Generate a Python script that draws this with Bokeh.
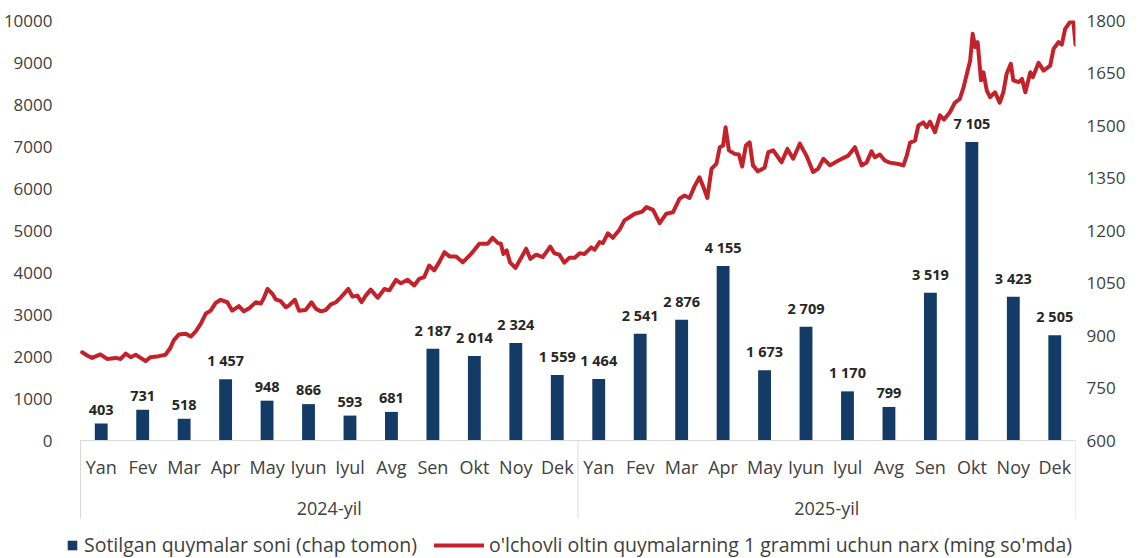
from bokeh.plotting import figure
from bokeh.models import Range1d, LinearAxis, FixedTicker, ColumnDataSource, Legend, LegendItem
from bokeh.embed import file_html
from bokeh.resources import INLINE
from bokeh.core.properties import value

# ---------------- data ----------------
months = ["Yan", "Fev", "Mar", "Apr", "May", "Iyun", "Iyul", "Avg", "Sen", "Okt", "Noy", "Dek"]
years = ["2024-yil", "2025-yil"]
sold_2024 = [403, 731, 518, 1457, 948, 866, 593, 681, 2187, 2014, 2324, 1559]
sold_2025 = [1464, 2541, 2876, 4155, 1673, 2709, 1170, 799, 3519, 7105, 3423, 2505]

# gold bar price (thousand so'm per gram); position = months elapsed since 1 Jan 2024
price_month = [
    0.04, 0.16, 0.28, 0.48, 0.64, 0.85, 0.97, 1.09, 1.21, 1.33, 1.45, 1.57, 1.69, 1.89,
    2.05, 2.17, 2.25, 2.37, 2.54, 2.66, 2.78, 2.90, 3.02, 3.14, 3.26, 3.38, 3.54, 3.66,
    3.82, 3.94, 4.07, 4.23, 4.35, 4.43, 4.51, 4.63, 4.71, 4.83, 4.95, 5.03, 5.17, 5.27,
    5.43, 5.57, 5.68, 5.80, 5.92, 6.04, 6.16, 6.28, 6.46, 6.56, 6.68, 6.78, 6.88, 7.00,
    7.17, 7.33, 7.45, 7.61, 7.73, 7.89, 8.05, 8.17, 8.29, 8.41, 8.53, 8.65, 8.78, 8.90,
    9.06, 9.22, 9.42, 9.62, 9.82, 9.94, 10.07, 10.14, 10.20, 10.28, 10.36, 10.49, 10.63,
    10.75, 10.85, 10.99, 11.15, 11.33, 11.43, 11.55, 11.67, 11.79, 11.92, 12.04, 12.16,
    12.32, 12.40, 12.52, 12.60, 12.72, 12.84, 13.00, 13.12, 13.24, 13.37, 13.55, 13.65,
    13.81, 13.97, 14.13, 14.29, 14.45, 14.57, 14.69, 14.81, 14.93, 15.02, 15.12, 15.22,
    15.34, 15.42, 15.50, 15.56, 15.64, 15.78, 15.88, 15.96, 16.05, 16.14, 16.22, 16.34,
    16.50, 16.59, 16.71, 16.91, 17.05, 17.19, 17.35, 17.51, 17.67, 17.79, 17.92, 18.08,
    18.28, 18.52, 18.68, 18.84, 18.96, 19.08, 19.16, 19.28, 19.40, 19.52, 19.73, 19.85,
    19.93, 20.01, 20.13, 20.21, 20.33, 20.41, 20.49, 20.61, 20.73, 20.83, 20.97, 21.09,
    21.21, 21.30, 21.38, 21.46, 21.52, 21.58, 21.64, 21.72, 21.78, 21.86, 21.94, 22.06,
    22.17, 22.26, 22.34, 22.44, 22.50, 22.63, 22.71, 22.79, 22.91, 22.97, 23.11, 23.23,
    23.39, 23.47, 23.59, 23.67, 23.75, 23.87, 23.95, 24.00,
]
price_value = [
    852, 843, 836, 846, 833, 836, 833, 848, 838, 845, 836, 827, 838, 841,
    845, 865, 886, 903, 905, 897, 912, 933, 962, 971, 993, 1002, 995, 971,
    984, 969, 978, 995, 991, 1009, 1033, 1019, 1003, 998, 981, 986, 1002, 971,
    973, 995, 976, 969, 973, 989, 995, 1009, 1033, 1011, 1014, 995, 1014, 1031,
    1008, 1033, 1029, 1059, 1049, 1059, 1043, 1062, 1067, 1100, 1086, 1109, 1138, 1126,
    1126, 1109, 1133, 1162, 1162, 1179, 1164, 1162, 1133, 1143, 1109, 1093, 1122,
    1148, 1119, 1131, 1124, 1154, 1135, 1131, 1108, 1122, 1122, 1135, 1133,
    1152, 1145, 1167, 1164, 1192, 1179, 1202, 1229, 1238, 1248, 1254, 1267,
    1259, 1221, 1248, 1252, 1291, 1300, 1293, 1326, 1352, 1326, 1293, 1376,
    1391, 1438, 1443, 1495, 1429, 1419, 1417, 1383, 1443, 1452, 1386, 1369,
    1379, 1424, 1429, 1395, 1433, 1405, 1448, 1414, 1367, 1376, 1405, 1386,
    1400, 1414, 1438, 1386, 1394, 1426, 1409, 1417, 1400, 1394, 1390, 1386,
    1414, 1451, 1457, 1500, 1509, 1495, 1511, 1481, 1529, 1517, 1538, 1565,
    1576, 1609, 1648, 1686, 1762, 1724, 1738, 1629, 1652, 1600, 1581, 1595,
    1565, 1595, 1648, 1676, 1629, 1624, 1633, 1595, 1652, 1638, 1679, 1657,
    1671, 1719, 1738, 1731, 1776, 1796, 1796, 1731,
]

left_ticks = [0, 1000, 2000, 3000, 4000, 5000, 6000, 7000, 8000, 9000, 10000]
right_ticks = [600, 750, 900, 1050, 1200, 1350, 1500, 1650, 1800]

bar_legend = "Sotilgan quymalar soni (chap tomon)"
line_legend = "o'lchovli oltin quymalarning 1 grammi uchun narx (ming so'mda)"

# ---------------- styling / layout ----------------
FONT = "Open Sans"
TXT = "#404040"
BAR_C = "#133B65"
LINE_C = "#C4222B"
AX_C = "#D9D9D9"

W, H = 1140, 558
FRAME_LEFT, CHART_LEFT, CHART_RIGHT = 55, 80, 1075     # page pixels
FRAME_TOP, FRAME_BOT, BASE = 20, 558, 440              # page pixels
LEFT_MAX, RIGHT_MIN, RIGHT_MAX = 10000, 600, 1800

n = len(months) * len(years)
px_per_slot = (CHART_RIGHT - CHART_LEFT) / n
x_start = -(CHART_LEFT - FRAME_LEFT) / px_per_slot
span_px = BASE - FRAME_TOP
left_start = -(FRAME_BOT - BASE) * LEFT_MAX / span_px
right_start = RIGHT_MIN - (FRAME_BOT - BASE) * (RIGHT_MAX - RIGHT_MIN) / span_px

p = figure(width=W, height=H, output_backend="svg", toolbar_location=None,
           x_range=Range1d(x_start, n), y_range=Range1d(left_start, LEFT_MAX),
           x_axis_location=None, y_axis_location="left",
           min_border_left=FRAME_LEFT, min_border_right=W - CHART_RIGHT,
           min_border_top=FRAME_TOP, min_border_bottom=0)
p.extra_y_ranges = {"right": Range1d(right_start, RIGHT_MAX),
                    "px": Range1d(FRAME_BOT, FRAME_TOP)}
p.extra_x_ranges = {"px": Range1d(FRAME_LEFT, CHART_RIGHT)}
p.outline_line_color = None
p.grid.grid_line_color = None
p.background_fill_color = "white"
p.border_fill_color = "white"

# left axis
ya = p.yaxis[0]
ya.ticker = FixedTicker(ticks=left_ticks)
ya.axis_line_color = None
ya.major_tick_line_color = None
ya.minor_tick_line_color = None
ya.major_tick_out = 0
ya.major_tick_in = 0
ya.major_label_standoff = 3
ya.major_label_text_font = FONT
ya.major_label_text_font_size = "17px"
ya.major_label_text_color = TXT

# right axis
ra = LinearAxis(y_range_name="right", ticker=FixedTicker(ticks=right_ticks))
ra.axis_line_color = None
ra.major_tick_line_color = None
ra.minor_tick_line_color = None
ra.major_tick_out = 0
ra.major_tick_in = 0
ra.major_label_standoff = 11
ra.major_label_text_font = FONT
ra.major_label_text_font_size = "17px"
ra.major_label_text_color = TXT
p.add_layout(ra, "right")

# bars
sold = sold_2024 + sold_2025
xs = [i + 0.5 for i in range(n)]
src = ColumnDataSource(dict(x=xs, top=sold,
                            lab=[f"{v:,}".replace(",", " ") for v in sold]))
bars = p.vbar(x="x", top="top", width=0.31, bottom=0, source=src,
              fill_color=BAR_C, line_color=None)
p.text(x="x", y="top", text="lab", source=src, text_align="center",
       text_baseline="bottom", y_offset=-9, text_font=value(FONT),
       text_font_style="bold", text_font_size="14.5px", text_color="#262626")

# line (right axis)
line = p.line(price_month, price_value, y_range_name="right", line_color=LINE_C,
              line_width=4, line_join="round", line_cap="round")

# category axis (vertical placement in page-pixel space)
p.segment(x0=[0], y0=[BASE], x1=[n], y1=[BASE], y_range_name="px",
          line_color=AX_C, line_width=1)
p.segment(x0=[0, 12, 24], y0=[BASE] * 3, x1=[0, 12, 24], y1=[518] * 3,
          y_range_name="px", line_color=AX_C, line_width=1)
p.text(x=xs, y=[466] * n, text=months * len(years), y_range_name="px",
       text_align="center", text_baseline="middle", text_font=value(FONT),
       text_font_size="18px", text_color=TXT)
p.text(x=[6, 18], y=[507, 507], text=years, y_range_name="px",
       text_align="center", text_baseline="middle", text_font=value(FONT),
       text_font_size="18px", text_color=TXT)

# legends (location relative to frame bottom-left)
leg1 = Legend(items=[LegendItem(label=bar_legend, renderers=[bars])],
              location=(66 - FRAME_LEFT, 0), orientation="horizontal",
              glyph_width=12, glyph_height=12, label_standoff=6,
              padding=0, margin=0, spacing=0, border_line_color=None,
              background_fill_alpha=0, label_text_font=FONT,
              label_text_font_size="19.5px", label_text_color=TXT)
leg2 = Legend(items=[LegendItem(label=line_legend, renderers=[line])],
              location=(434 - FRAME_LEFT, 0), orientation="horizontal",
              glyph_width=50, glyph_height=12, label_standoff=5,
              padding=0, margin=0, spacing=0, border_line_color=None,
              background_fill_alpha=0, label_text_font=FONT,
              label_text_font_size="19.5px", label_text_color=TXT)
p.add_layout(leg1)
p.add_layout(leg2)

open("out.html", "w").write(file_html(p, INLINE))
